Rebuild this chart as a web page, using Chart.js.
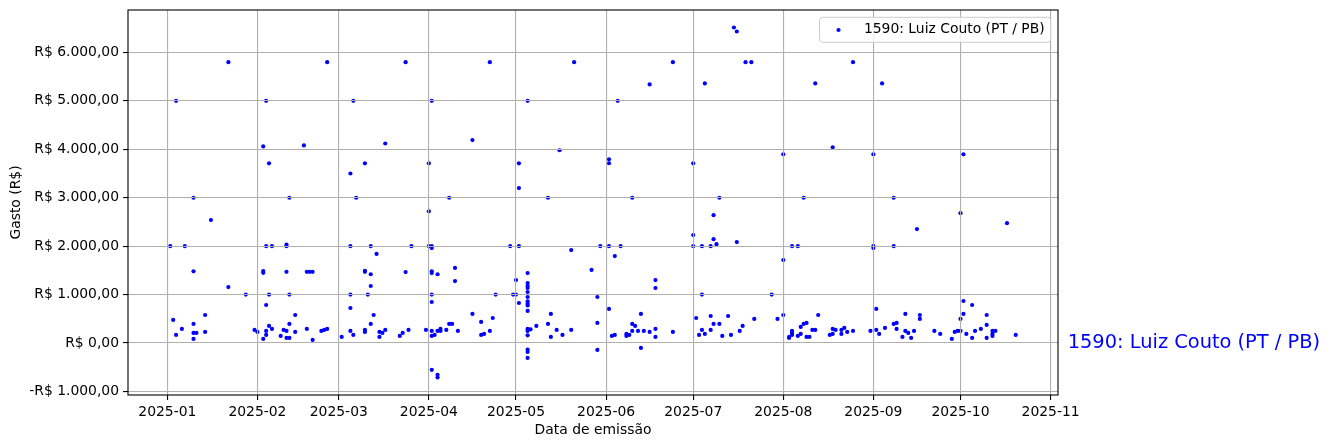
<!DOCTYPE html>
<html><head><meta charset="utf-8">
<script src="https://cdn.jsdelivr.net/npm/chart.js@4.4.1/dist/chart.umd.min.js"></script>
<style>html,body{margin:0;padding:0;background:#fff;}canvas{display:block;}</style>
</head><body>
<canvas id="c" width="1330" height="448" style="width:1330px;height:448px"></canvas>
<script>
const seriesLabel = '1590: Luiz Couto (PT / PB)';
const xTitle = 'Data de emissão';
const yTitle = 'Gasto (R$)';
const xTickLabels = ['2025-01','2025-02','2025-03','2025-04','2025-05','2025-06','2025-07','2025-08','2025-09','2025-10','2025-11'];
const yTickValues = [-1000,0,1000,2000,3000,4000,5000,6000];

const dates = [
'2025-01-02','2025-01-03','2025-01-04','2025-01-04','2025-01-06','2025-01-07','2025-01-10','2025-01-10','2025-01-10','2025-01-10','2025-01-10','2025-01-11','2025-01-14','2025-01-14','2025-01-16','2025-01-22','2025-01-22','2025-01-28','2025-01-31',
'2025-02-01','2025-02-03','2025-02-03','2025-02-03','2025-02-03','2025-02-04','2025-02-04','2025-02-04','2025-02-04','2025-02-04','2025-02-05','2025-02-05','2025-02-05','2025-02-06','2025-02-06','2025-02-09','2025-02-10','2025-02-11','2025-02-11','2025-02-11','2025-02-11','2025-02-11','2025-02-12','2025-02-12','2025-02-12','2025-02-12','2025-02-14','2025-02-14','2025-02-17','2025-02-18','2025-02-18','2025-02-19','2025-02-20','2025-02-20','2025-02-23','2025-02-24','2025-02-25','2025-02-25',
'2025-03-02','2025-03-05','2025-03-05','2025-03-05','2025-03-05','2025-03-05','2025-03-06','2025-03-06','2025-03-07','2025-03-10','2025-03-10','2025-03-10','2025-03-10','2025-03-10','2025-03-11','2025-03-12','2025-03-12','2025-03-12','2025-03-12','2025-03-13','2025-03-14','2025-03-15','2025-03-15','2025-03-16','2025-03-17','2025-03-17','2025-03-22','2025-03-23','2025-03-24','2025-03-24','2025-03-25','2025-03-26','2025-03-31',
'2025-04-01','2025-04-01','2025-04-01','2025-04-02','2025-04-02','2025-04-02','2025-04-02','2025-04-02','2025-04-02','2025-04-02','2025-04-02','2025-04-02','2025-04-02','2025-04-03','2025-04-04','2025-04-04','2025-04-04','2025-04-04','2025-04-05','2025-04-05','2025-04-07','2025-04-08','2025-04-08','2025-04-09','2025-04-10','2025-04-10','2025-04-11','2025-04-16','2025-04-16','2025-04-19','2025-04-19','2025-04-20','2025-04-22','2025-04-22','2025-04-23','2025-04-24','2025-04-29','2025-04-30',
'2025-05-01','2025-05-01','2025-05-02','2025-05-02','2025-05-02','2025-05-02','2025-05-05','2025-05-05','2025-05-05','2025-05-05','2025-05-05','2025-05-05','2025-05-05','2025-05-05','2025-05-05','2025-05-05','2025-05-05','2025-05-05','2025-05-05','2025-05-05','2025-05-05','2025-05-05','2025-05-05','2025-05-06','2025-05-08','2025-05-12','2025-05-12','2025-05-13','2025-05-13','2025-05-15','2025-05-16','2025-05-17','2025-05-20','2025-05-20','2025-05-21','2025-05-27','2025-05-29','2025-05-29','2025-05-29','2025-05-30',
'2025-06-02','2025-06-02','2025-06-02','2025-06-02','2025-06-03','2025-06-04','2025-06-04','2025-06-05','2025-06-06','2025-06-08','2025-06-08','2025-06-09','2025-06-10','2025-06-10','2025-06-10','2025-06-11','2025-06-12','2025-06-13','2025-06-13','2025-06-14','2025-06-16','2025-06-16','2025-06-18','2025-06-18','2025-06-18','2025-06-18','2025-06-24','2025-06-24',
'2025-07-01','2025-07-01','2025-07-01','2025-07-02','2025-07-03','2025-07-04','2025-07-04','2025-07-04','2025-07-05','2025-07-05','2025-07-07','2025-07-07','2025-07-07','2025-07-08','2025-07-08','2025-07-08','2025-07-09','2025-07-10','2025-07-10','2025-07-11','2025-07-13','2025-07-14','2025-07-15','2025-07-16','2025-07-16','2025-07-17','2025-07-18','2025-07-19','2025-07-21','2025-07-22','2025-07-28','2025-07-30',
'2025-08-01','2025-08-01','2025-08-01','2025-08-03','2025-08-03','2025-08-04','2025-08-04','2025-08-04','2025-08-04','2025-08-06','2025-08-06','2025-08-07','2025-08-07','2025-08-08','2025-08-08','2025-08-09','2025-08-09','2025-08-10','2025-08-11','2025-08-12','2025-08-12','2025-08-13','2025-08-17','2025-08-18','2025-08-18','2025-08-18','2025-08-19','2025-08-21','2025-08-21','2025-08-22','2025-08-23','2025-08-25','2025-08-25','2025-08-31',
'2025-09-01','2025-09-01','2025-09-01','2025-09-02','2025-09-02','2025-09-03','2025-09-04','2025-09-05','2025-09-08','2025-09-08','2025-09-08','2025-09-09','2025-09-09','2025-09-11','2025-09-12','2025-09-12','2025-09-13','2025-09-14','2025-09-15','2025-09-16','2025-09-17','2025-09-17','2025-09-22','2025-09-24','2025-09-28','2025-09-29','2025-09-30',
'2025-10-01','2025-10-01','2025-10-01','2025-10-02','2025-10-02','2025-10-02','2025-10-03','2025-10-05','2025-10-05','2025-10-06','2025-10-08','2025-10-10','2025-10-10','2025-10-10','2025-10-12','2025-10-12','2025-10-12','2025-10-13','2025-10-17','2025-10-20'
];
const values = [
2000,476,5000,167,290,2000,3000,1480,394,208,84,208,579,229,2540,5800,1156,1000,270,
229,4060,1486,1450,84,5000,2000,785,167,249,3710,1000,352,2000,290,146,270,2030,2000,1470,249,105,105,3000,1000,394,579,229,4080,1470,290,1470,1470,64,249,270,5800,290,
126,3500,2000,1000,723,249,5000,167,3000,3710,1490,1470,270,229,1000,2000,1420,1177,394,579,1840,229,126,208,4120,270,146,208,5800,1465,270,2000,270,
3710,2720,2000,5000,2000,1960,1480,1445,1000,847,249,146,-554,167,1420,249,-657,-712,290,249,270,3000,394,394,1550,1280,249,4190,600,435,167,187,5800,249,517,1000,2000,1000,
1000,1300,3710,3200,2000,826,5000,1445,1239,1183,1136,1053,950,860,812,777,662,290,249,159,-136,-183,-307,282,352,3000,394,600,126,270,3980,167,1920,270,5800,1510,950,414,-142,2000,
3794,3712,2000,703,146,1795,167,5000,2000,146,187,167,3000,249,394,352,249,600,-101,249,5340,229,1300,1136,126,290,5800,229,
3710,2228,2000,517,167,2000,1000,270,5360,187,2000,558,270,2640,2145,394,2042,3000,394,146,558,167,6515,6432,2084,249,352,5800,5800,497,1000,497,
3897,1713,579,126,105,2000,249,208,167,2000,146,187,332,3000,394,414,126,126,270,5360,270,579,167,4042,187,290,270,270,187,311,229,5800,249,249,
3897,2000,1960,703,270,187,5360,311,3000,2000,394,414,290,126,600,249,208,105,249,2352,579,497,249,187,84,229,249,
2681,497,249,3897,868,600,187,785,105,249,290,579,373,105,249,187,146,249,2475,167
];

const toTs = s => Date.parse(s + 'T00:00:00Z');
const points = dates.map((d, i) => ({ x: toTs(d), y: values[i] }));
const xs = points.map(p => p.x), ys = points.map(p => p.y);
const xMinD = Math.min(...xs), xMaxD = Math.max(...xs);
const yMinD = Math.min(...ys), yMaxD = Math.max(...ys);
const xm = (xMaxD - xMinD) * 0.05, ym = (yMaxD - yMinD) * 0.05;
const xTickValues = xTickLabels.map(l => toTs(l + '-01'));

function brl(v) {
  const neg = v < 0, a = Math.abs(v);
  const ip = Math.floor(a).toString().replace(/\B(?=(\d{3})+(?!\d))/g, '.');
  const dp = Math.round((a - Math.floor(a)) * 100).toString().padStart(2, '0');
  return (neg ? '-' : '') + 'R$ ' + ip + ',' + dp;
}

const FONT = 'DejaVu Sans';
const fnt = { family: FONT, size: 13.9 };
Chart.defaults.font.family = FONT;

const overlay = {
  id: 'overlay',
  afterDraw(chart) {
    const { ctx, chartArea: a, scales } = chart;
    ctx.save();
    ctx.strokeStyle = '#000'; ctx.lineWidth = 1.1;
    ctx.strokeRect(a.left, a.top, a.right - a.left, a.bottom - a.top);
    // legend
    ctx.font = '13.9px "' + FONT + '"';
    const tw = ctx.measureText(seriesLabel).width;
    const boxRight = a.right - 7.3, boxTop = a.top + 7.3, boxH = 25;
    const textX = boxRight - 6 - tw;
    const boxLeft = textX - 44.4;
    const r = 3;
    ctx.beginPath();
    ctx.moveTo(boxLeft + r, boxTop);
    ctx.arcTo(boxRight, boxTop, boxRight, boxTop + boxH, r);
    ctx.arcTo(boxRight, boxTop + boxH, boxLeft, boxTop + boxH, r);
    ctx.arcTo(boxLeft, boxTop + boxH, boxLeft, boxTop, r);
    ctx.arcTo(boxLeft, boxTop, boxRight, boxTop, r);
    ctx.closePath();
    ctx.fillStyle = 'rgba(255,255,255,0.8)'; ctx.fill();
    ctx.strokeStyle = '#cccccc'; ctx.lineWidth = 1; ctx.stroke();
    ctx.beginPath();
    ctx.arc(textX - 25.4, boxTop + 12.7, 2.1, 0, Math.PI * 2);
    ctx.fillStyle = '#0000ff'; ctx.fill();
    ctx.fillStyle = '#000'; ctx.textBaseline = 'middle'; ctx.textAlign = 'left';
    ctx.fillText(seriesLabel, textX, boxTop + 12.5);
    // right annotation
    ctx.font = '19.4px "' + FONT + '"';
    ctx.fillStyle = '#0000ff';
    ctx.fillText(seriesLabel, a.right + 9.7, scales.y.getPixelForValue(0));
    ctx.restore();
  }
};

new Chart(document.getElementById('c'), {
  type: 'scatter',
  data: { datasets: [{ label: seriesLabel, data: points, backgroundColor: '#0000ff', borderColor: '#0000ff', borderWidth: 0, pointRadius: 2.1, pointHoverRadius: 2.1 }] },
  options: {
    responsive: false, animation: false, events: [],
    layout: { padding: { left: 0, right: 272, top: 10, bottom: 0 } },
    plugins: { legend: { display: false }, tooltip: { enabled: false } },
    scales: {
      x: {
        type: 'linear', position: 'bottom', bounds: 'data',
        min: xMinD - xm, max: xMaxD + xm,
        grid: { color: '#b0b0b0', lineWidth: 1.1, tickColor: '#000', tickLength: 5, drawTicks: true, z: 1 },
        border: { display: false },
        ticks: { font: fnt, color: '#000', padding: 4, autoSkip: false, maxRotation: 0,
          callback: (v) => { const i = xTickValues.indexOf(v); return i >= 0 ? xTickLabels[i] : ''; } },
        title: { display: true, text: xTitle, font: fnt, color: '#000', padding: { top: 0, bottom: 9.7 } },
        afterBuildTicks: (s) => { s.ticks = xTickValues.map(v => ({ value: v })); },
        afterFit: (s) => { s.height = 53; s.paddingLeft = 0; s.paddingRight = 0; }
      },
      y: {
        type: 'linear', position: 'left', bounds: 'data',
        min: yMinD - ym, max: yMaxD + ym,
        grid: { color: '#b0b0b0', lineWidth: 1.1, tickColor: '#000', tickLength: 5, drawTicks: true, z: 1 },
        border: { display: false },
        ticks: { font: fnt, color: '#000', padding: 4, callback: (v) => brl(v) },
        title: { display: true, text: yTitle, font: fnt, color: '#000', padding: { top: 7.7, bottom: 0 } },
        afterBuildTicks: (s) => { s.ticks = yTickValues.map(v => ({ value: v })); },
        afterFit: (s) => { s.width = 128; s.paddingTop = 0; s.paddingBottom = 0; }
      }
    }
  },
  plugins: [overlay]
});
</script>
</body></html>
